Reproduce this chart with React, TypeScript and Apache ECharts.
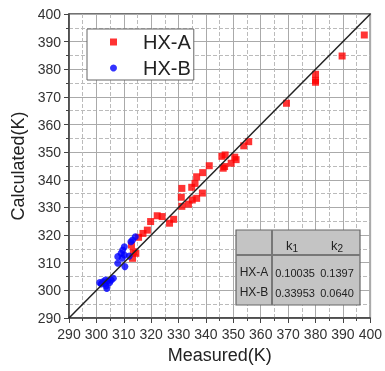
import React, { useEffect, useRef } from "react";
import * as echarts from "echarts";

const hxA: [number, number][] = [
  [313.2, 311.6], [314.4, 313.4], [313.5, 314.0], [312.8, 316.4], [315.4, 319.2],
  [317.0, 320.6], [318.6, 321.8], [319.8, 324.9], [322.2, 327.0], [324.0, 326.7],
  [326.7, 324.3], [328.2, 325.7], [331.2, 330.4], [331.0, 333.7], [331.2, 336.9],
  [333.6, 331.2], [335.0, 332.7], [336.6, 333.3], [338.7, 335.2], [334.8, 337.3],
  [336.0, 338.7], [336.6, 341.1], [338.8, 342.6], [341.2, 345.1], [346.3, 344.2],
  [346.8, 344.8], [345.8, 348.5], [347.0, 349.0], [349.2, 346.0], [350.5, 348.2],
  [351.0, 347.3], [353.8, 352.3], [355.6, 353.8], [369.4, 367.7], [380.0, 378.2],
  [380.0, 376.0], [380.0, 375.3], [389.7, 384.8], [397.8, 392.4],
];

const hxB: [number, number][] = [
  [314.2, 319.4], [313.2, 318.2], [312.6, 317.6], [310.2, 315.8], [309.6, 314.6],
  [309.0, 313.4], [310.2, 312.8], [307.8, 312.2], [309.4, 311.6], [312.0, 312.4],
  [307.8, 309.8], [310.4, 308.6], [301.2, 302.8], [302.4, 303.1], [303.3, 303.7],
  [304.2, 303.5], [305.4, 303.7], [306.2, 304.4], [301.8, 302.3], [303.0, 302.6],
  [303.8, 300.7], [304.8, 302.8], [303.6, 301.6],
];

const diagonal: [number, number][] = [[290, 290], [400, 400]];

const tableRows = ["HX-A", "HX-B"];
const tableK1 = ["0.10035", "0.33953"];
const tableK2 = ["0.1397", "0.0640"];

const FONT = "'Liberation Sans', Arial, sans-serif";

export default function App() {
  const ref = useRef<HTMLDivElement>(null);
  useEffect(() => {
    if (!ref.current) return;
    const chart = echarts.init(ref.current, undefined, { renderer: "svg" });

    const tx = 236, ty = 230, tw = 124, th = 75, hh = 25, cw = 36;
    const rowY = [272, 292];
    const graphics: any[] = [
      { type: "rect", shape: { x: tx, y: ty, width: tw, height: th }, style: { fill: "#c4c4c4", stroke: "#666", lineWidth: 1.2 }, z: 100 },
      { type: "line", shape: { x1: tx, y1: ty + hh, x2: tx + tw, y2: ty + hh }, style: { stroke: "#777", lineWidth: 2 }, z: 101 },
      { type: "line", shape: { x1: tx + cw, y1: ty, x2: tx + cw, y2: ty + th }, style: { stroke: "#777", lineWidth: 2 }, z: 101 },
      {
        type: "text", x: 292, y: 245, z: 102,
        style: { text: "{a|k}{b|1}", align: "center", verticalAlign: "middle", rich: { a: { fontSize: 13, fontFamily: FONT, fill: "#222" }, b: { fontSize: 10, fontFamily: FONT, fill: "#222", padding: [6, 0, 0, 0] } } },
      },
      {
        type: "text", x: 337, y: 245, z: 102,
        style: { text: "{a|k}{b|2}", align: "center", verticalAlign: "middle", rich: { a: { fontSize: 13, fontFamily: FONT, fill: "#222" }, b: { fontSize: 10, fontFamily: FONT, fill: "#222", padding: [6, 0, 0, 0] } } },
      },
    ];
    tableRows.forEach((r, i) => {
      graphics.push({ type: "text", x: 254, y: rowY[i], z: 102, style: { text: r, align: "center", verticalAlign: "middle", fontSize: 12, fontFamily: FONT, fill: "#222" } });
      graphics.push({ type: "text", x: 295, y: rowY[i] + 1, z: 102, style: { text: tableK1[i], align: "center", verticalAlign: "middle", fontSize: 11, fontFamily: FONT, fill: "#222" } });
      graphics.push({ type: "text", x: 337, y: rowY[i] + 1, z: 102, style: { text: tableK2[i], align: "center", verticalAlign: "middle", fontSize: 11, fontFamily: FONT, fill: "#222" } });
    });

    const axisCommon = {
      type: "value",
      min: 290,
      max: 400,
      interval: 10,
      axisLine: { show: true, lineStyle: { color: "#444", width: 1.5 } },
      axisTick: { show: true, length: 5, lineStyle: { color: "#444" } },
      minorTick: { show: true, splitNumber: 2, length: 3, lineStyle: { color: "#444" } },
      splitLine: { show: true, lineStyle: { color: "#aaaaaa", width: 1 } },
      minorSplitLine: { show: true, lineStyle: { color: "#bbbbbb", width: 1, type: "dashed" } },
      axisLabel: { fontSize: 14, color: "#333", fontFamily: FONT },
      nameLocation: "middle",
      nameTextStyle: { fontSize: 18, color: "#222", fontFamily: FONT },
    };

    chart.setOption({
      animation: false,
      textStyle: { fontFamily: FONT },
      grid: { left: 69, right: 11, top: 14, bottom: 53, show: true, borderColor: "#444", borderWidth: 1.5, backgroundColor: "transparent" },
      xAxis: { ...axisCommon, name: "Measured(K)", nameGap: 27, axisLabel: { ...axisCommon.axisLabel, margin: 9 } },
      yAxis: { ...axisCommon, name: "Calculated(K)", nameGap: 36, axisLabel: { ...axisCommon.axisLabel, margin: 8 } },
      legend: {
        orient: "vertical",
        left: 87,
        top: 29,
        data: [
          { name: "HX-A", icon: "rect" },
          { name: "HX-B", icon: "circle" },
        ],
        itemWidth: 7,
        itemHeight: 7,
        itemGap: 6,
        padding: [3, 3, 2, 23],
        backgroundColor: "#fff",
        borderColor: "#666",
        borderWidth: 1,
        textStyle: { fontSize: 20, color: "#222", fontFamily: FONT, padding: [0, 0, 0, 21] },
      },
      series: [
        { name: "HX-A", type: "scatter", data: hxA, symbol: "rect", symbolSize: 7, itemStyle: { color: "#ff0000" } },
        { name: "HX-B", type: "scatter", data: hxB, symbol: "circle", symbolSize: 7, itemStyle: { color: "#0000ff" } },
        { name: "diag", type: "line", data: diagonal, symbol: "none", silent: true, z: 5, lineStyle: { color: "#222", width: 1.5 } },
      ],
      graphic: graphics,
    });
    return () => chart.dispose();
  }, []);
  return <div ref={ref} style={{ position: "fixed", left: 0, top: 0, width: 385, height: 371 }} />;
}
